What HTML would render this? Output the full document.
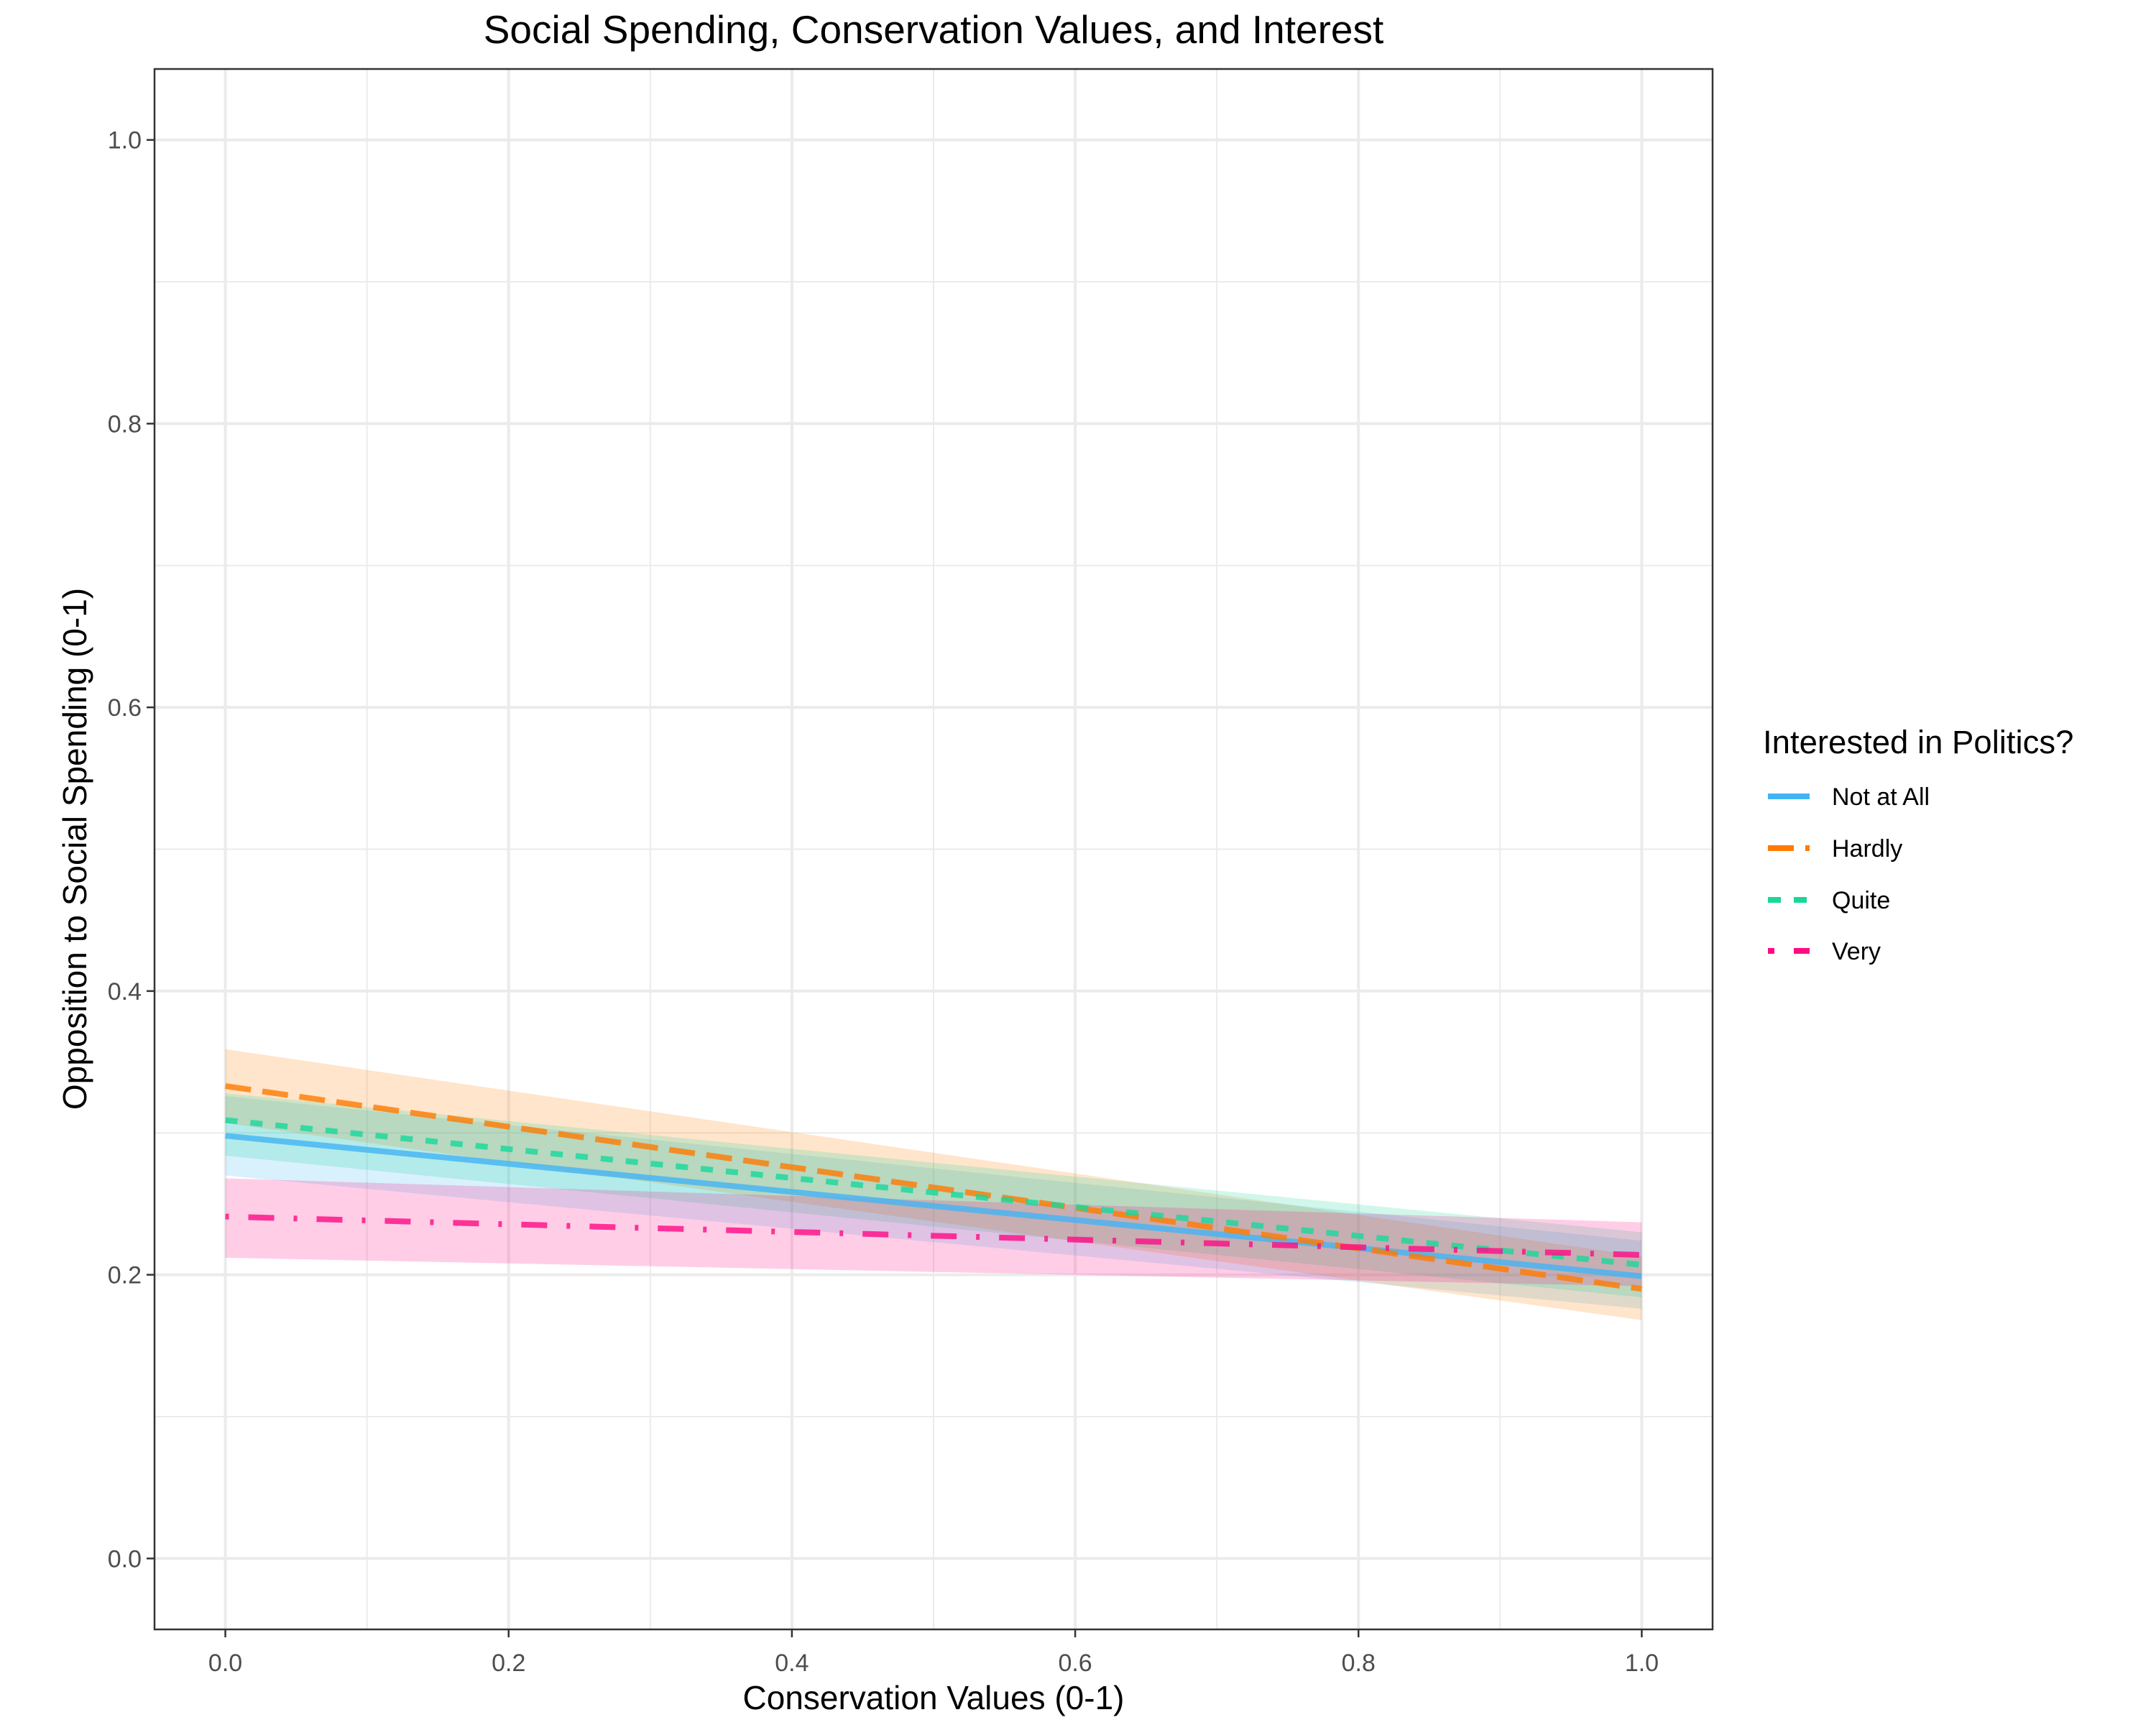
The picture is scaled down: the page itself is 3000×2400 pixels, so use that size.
<!DOCTYPE html>
<html><head><meta charset="utf-8"><style>
html,body{margin:0;padding:0;background:#fff}
svg{display:block;font-family:"Liberation Sans",sans-serif}
</style></head><body>
<svg id="chart" width="3000" height="2400" viewBox="0 0 3000 2400" xmlns="http://www.w3.org/2000/svg">
<rect width="3000" height="2400" fill="#fff"/>
<text x="1299" y="60" font-size="55" text-anchor="middle" fill="#000">Social Spending, Conservation Values, and Interest</text>
<g id="grid"></g>
<g id="ribbons"></g>
<g id="lines"></g>
<rect x="215" y="96" width="2168" height="2171" fill="none" stroke="#333" stroke-width="2.5"/>
<g id="axes"></g>
<text x="1299" y="2378" font-size="46" text-anchor="middle" fill="#000">Conservation Values (0-1)</text>
<text transform="translate(120,1181) rotate(-90)" font-size="46" text-anchor="middle" fill="#000">Opposition to Social Spending (0-1)</text>
<g id="legend">
<text x="2453" y="1048" font-size="45.5" fill="#000">Interested in Politics?</text>
</g>
</svg>
<script>
const xs = [0, 1];
const categories = ["Not at All", "Hardly", "Quite", "Very"];
const meanNotAtAll = [0.298, 0.199];
const loNotAtAll = [0.270, 0.176];
const hiNotAtAll = [0.326, 0.224];
const meanHardly = [0.333, 0.190];
const loHardly = [0.307, 0.168];
const hiHardly = [0.359, 0.213];
const meanQuite = [0.309, 0.207];
const loQuite = [0.284, 0.184];
const hiQuite = [0.328, 0.230];
const meanVery = [0.241, 0.214];
const loVery = [0.212, 0.192];
const hiVery = [0.268, 0.237];
const xTicks = ["0.0", "0.2", "0.4", "0.6", "0.8", "1.0"];
const yTicks = ["0.0", "0.2", "0.4", "0.6", "0.8", "1.0"];

const NS = "http://www.w3.org/2000/svg";
const PL = 215, PR = 2383, PT = 96, PB = 2267;
const xMin = -0.05, xMax = 1.05, yMin = -0.05, yMax = 1.05;
function sx(v){ return PL + (v - xMin) / (xMax - xMin) * (PR - PL); }
function sy(v){ return PB - (v - yMin) / (yMax - yMin) * (PB - PT); }
function mk(tag, attrs, parent){ const e = document.createElementNS(NS, tag); for (const k in attrs) e.setAttribute(k, attrs[k]); parent.appendChild(e); return e; }

const grid = document.getElementById('grid');
mk('rect', {x:PL, y:PT, width:PR-PL, height:PB-PT, fill:'#fff'}, grid);
for (let i = 0; i < 5; i++) {
  const v = 0.1 + i * 0.2;
  const gx = mk('line', {x1:sx(v), x2:sx(v), y1:PT, y2:PB, stroke:'#ebebeb', 'stroke-width':2}, grid);
  
  
  const gy = mk('line', {x1:PL, x2:PR, y1:sy(v), y2:sy(v), stroke:'#ebebeb', 'stroke-width':2}, grid);
  
  
}
const axes = document.getElementById('axes');
xTicks.forEach(t => {
  const v = parseFloat(t);
  const g = mk('line', {x1:sx(v), x2:sx(v), y1:PT, y2:PB, stroke:'#ebebeb', 'stroke-width':4}, grid);
  
  
  const tk = mk('line', {x1:sx(v), x2:sx(v), y1:PB, y2:PB+11, stroke:'#333', 'stroke-width':2.5}, axes);
  
  
  const tx = mk('text', {x:sx(v), y:PB+58, 'font-size':34, 'text-anchor':'middle', fill:'#4d4d4d'}, axes);
  tx.textContent = t;
  
  
});
yTicks.forEach(t => {
  const v = parseFloat(t);
  const g = mk('line', {x1:PL, x2:PR, y1:sy(v), y2:sy(v), stroke:'#ebebeb', 'stroke-width':4}, grid);
  
  
  const tk = mk('line', {x1:PL-11, x2:PL, y1:sy(v), y2:sy(v), stroke:'#333', 'stroke-width':2.5}, axes);
  
  
  const tx = mk('text', {x:PL-18, y:sy(v)+12, 'font-size':34, 'text-anchor':'end', fill:'#4d4d4d'}, axes);
  tx.textContent = t;
  
  
});

const series = [
  {name:'not-at-all', mean:meanNotAtAll, lo:loNotAtAll, hi:hiNotAtAll, color:'#42b4f4', dash:'none'},
  {name:'hardly', mean:meanHardly, lo:loHardly, hi:hiHardly, color:'#ff7b00', dash:'36 16'},
  {name:'quite', mean:meanQuite, lo:loQuite, hi:hiQuite, color:'#17d89a', dash:'17 18'},
  {name:'very', mean:meanVery, lo:loVery, hi:hiVery, color:'#ff0a84', dash:'5 27 36 27'}
];
const rib = document.getElementById('ribbons');
const lines = document.getElementById('lines');
series.forEach(s => {
  let pts = xs.map((x,i) => sx(x)+','+sy(s.hi[i]));
  pts = pts.concat(xs.slice().reverse().map((x,j) => { const i = xs.length-1-j; return sx(x)+','+sy(s.lo[i]); }));
  const p = mk('polygon', {points:pts.join(' '), fill:s.color, 'fill-opacity':0.2}, rib);
  
  
  const l = mk('polyline', {points:xs.map((x,i)=>sx(x)+','+sy(s.mean[i])).join(' '), fill:'none', stroke:s.color, 'stroke-width':8, 'stroke-opacity':0.8, 'stroke-dasharray':s.dash}, lines);
  
  
});
const leg = document.getElementById('legend');
const rowsY = [1108, 1180, 1252, 1323];
series.forEach((s,i) => {
  const g = mk('g', {}, leg);
  
  
  let dash = s.dash;
  if (s.name === 'hardly') dash = '36 16';
  if (s.name === 'quite') dash = '18 18';
  if (s.name === 'very') dash = '9 27 22 30';
  const k = mk('line', {x1:2460, x2:2518, y1:rowsY[i], y2:rowsY[i], stroke:s.color, 'stroke-width':8, 'stroke-dasharray':dash}, g);
  
  
  const t = mk('text', {x:2549, y:rowsY[i]+12, 'font-size':34, fill:'#000'}, g);
  t.textContent = categories[i];
  
  
});
</script>
</body></html>
